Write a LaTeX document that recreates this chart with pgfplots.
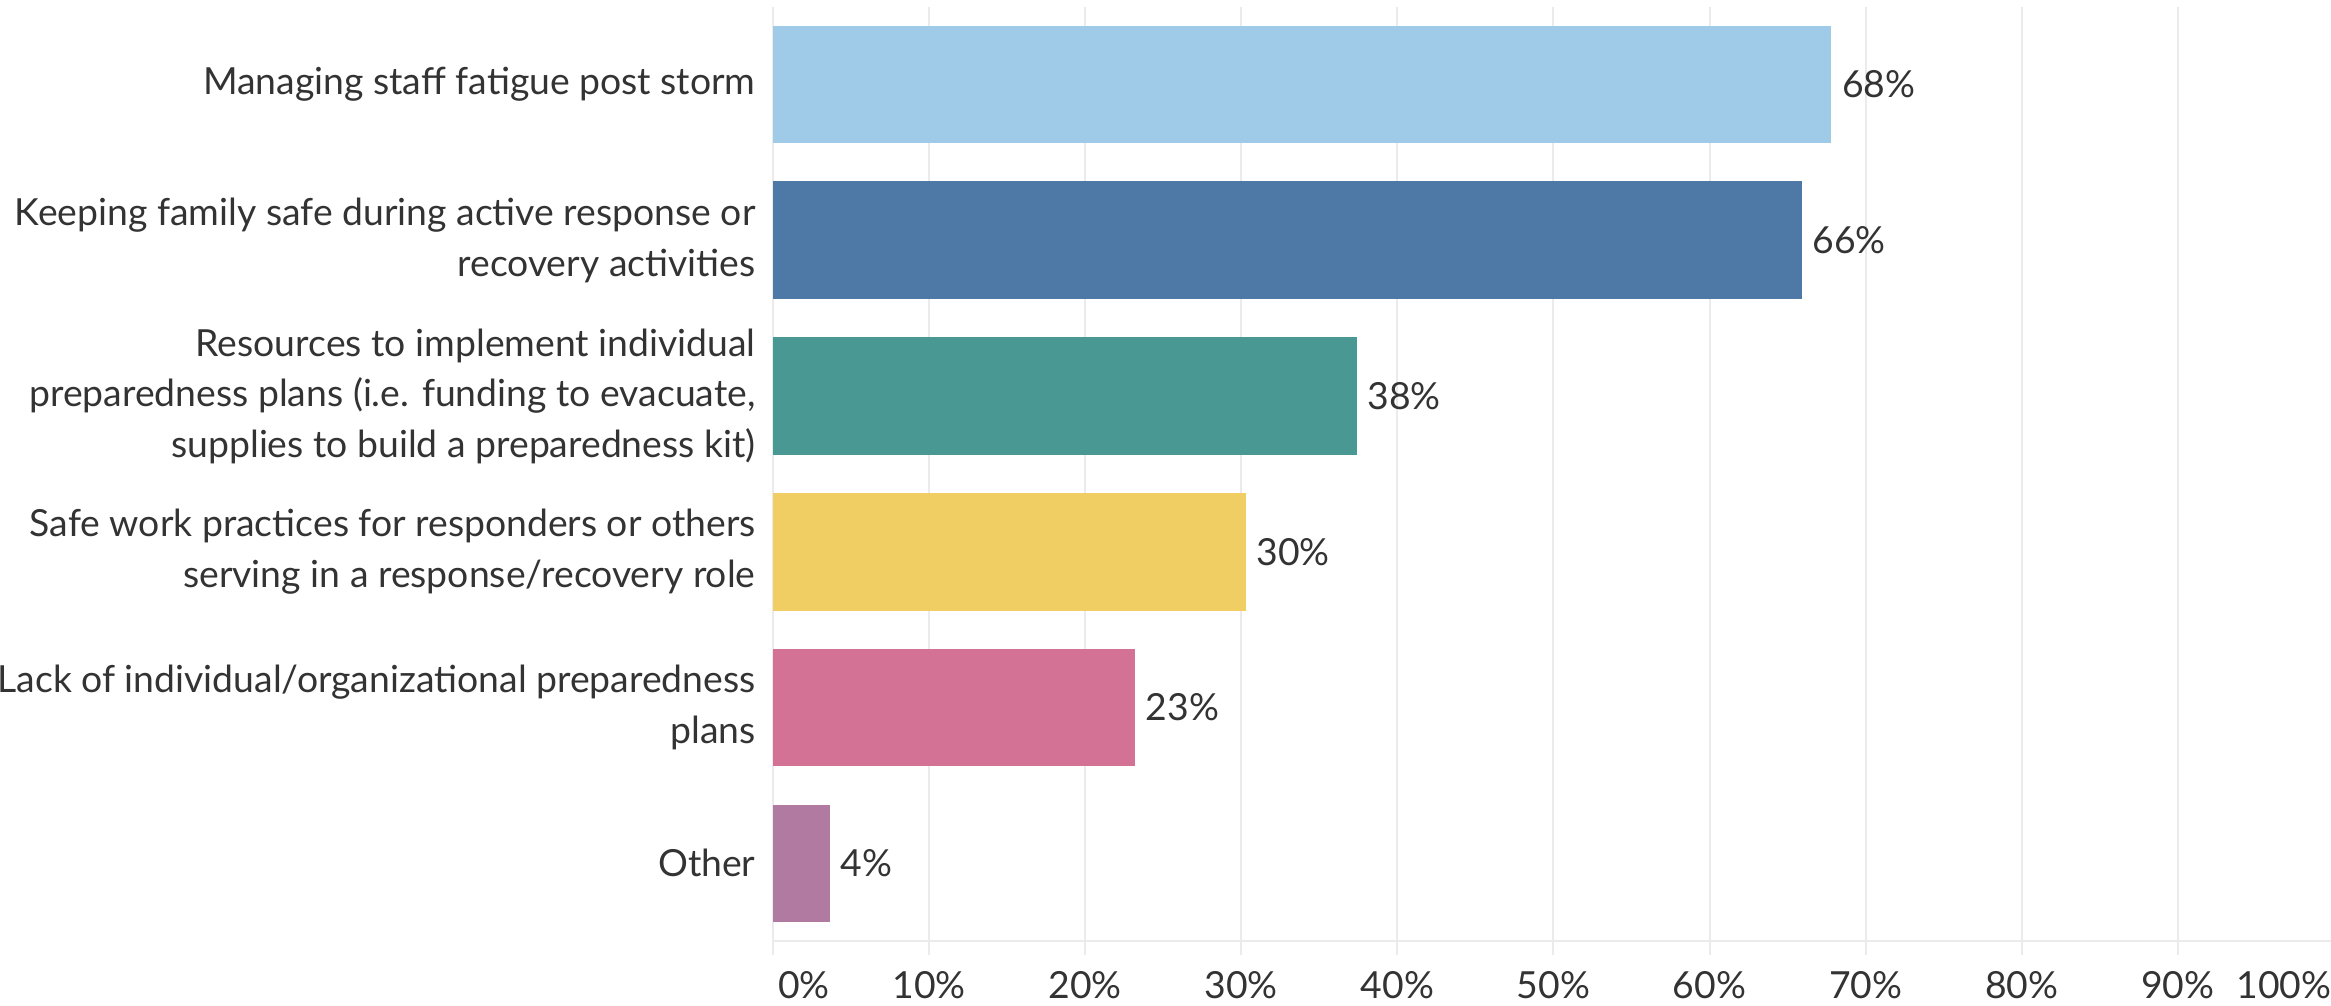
\documentclass[border=0pt]{standalone}
\usepackage{pgfplots}
\pgfplotsset{compat=1.18}
\usepackage{fontspec}
\setmainfont{Lato}
\definecolor{c1}{HTML}{A0CBE8}
\definecolor{c2}{HTML}{4E79A7}
\definecolor{c3}{HTML}{499894}
\definecolor{c4}{HTML}{F1CE63}
\definecolor{c5}{HTML}{D37295}
\definecolor{c6}{HTML}{B07AA1}
\definecolor{gridc}{HTML}{EBEBEB}
\definecolor{txt}{HTML}{333333}
\begin{document}
\fontsize{11.2}{15.15}\selectfont
\begin{tikzpicture}
\begin{axis}[
  name=ax,
  scale only axis,
  width=468.3pt, height=280.4pt,
  xmin=0, xmax=100,
  ymin=-0.5, ymax=5.5,
  xbar, bar shift=0pt, bar width=35.3pt,
  axis line style={draw=none},
  axis x line*=bottom,
  x axis line style={draw=gridc, line width=0.6pt},
  xmajorgrids, grid style={draw=gridc, line width=0.6pt},
  xtick={0,10,...,100},
  xticklabels={\hspace*{18.6pt}0\%,10\%,20\%,30\%,40\%,50\%,60\%,70\%,80\%,90\%,100\%\hspace*{30pt}},
  tick align=outside, major tick length=4.2pt,
  xtick style={draw=gridc, line width=0.6pt},
  ytick={0,1,2,3,4,5},
  ytick style={draw=none},
  yticklabels={Other,{Lack of individual/organizational preparedness\\plans},{Safe work practices for responders or others\\serving in a response/recovery role},{Resources to implement individual\\preparedness plans (i.e. funding to evacuate,\\supplies to build a preparedness kit)},{Keeping family safe during active response or\\recovery activities},{Managing staff fatigue post storm}},
  yticklabel style={align=right, font=\fontsize{11.2}{15.15}\selectfont, text=txt, xshift=2.9pt},
  xticklabel style={font=\fontsize{11.2}{15.15}\selectfont, text=txt, yshift=-0.8pt},
  nodes near coords,
  point meta=explicit symbolic,
  nodes near coords style={anchor=west, inner sep=0pt, xshift=3pt, text=txt, font=\fontsize{11.2}{15.15}\selectfont},
  clip=false,
]
\addplot[fill=c1, draw=none] coordinates {(67.8,5) [68\%]};
\addplot[fill=c2, draw=none] coordinates {(65.9,4) [66\%]};
\addplot[fill=c3, draw=none] coordinates {(37.4,3) [38\%]};
\addplot[fill=c4, draw=none] coordinates {(30.3,2) [30\%]};
\addplot[fill=c5, draw=none] coordinates {(23.2,1) [23\%]};
\addplot[fill=c6, draw=none] coordinates {(3.65,0) [4\%]};
\end{axis}
\pgfresetboundingbox
\path[use as bounding box] ([xshift=-231.9pt,yshift=-19.38pt]ax.south west) rectangle ([xshift=-0.9pt,yshift=1.98pt]ax.north east);
\end{tikzpicture}
\end{document}
